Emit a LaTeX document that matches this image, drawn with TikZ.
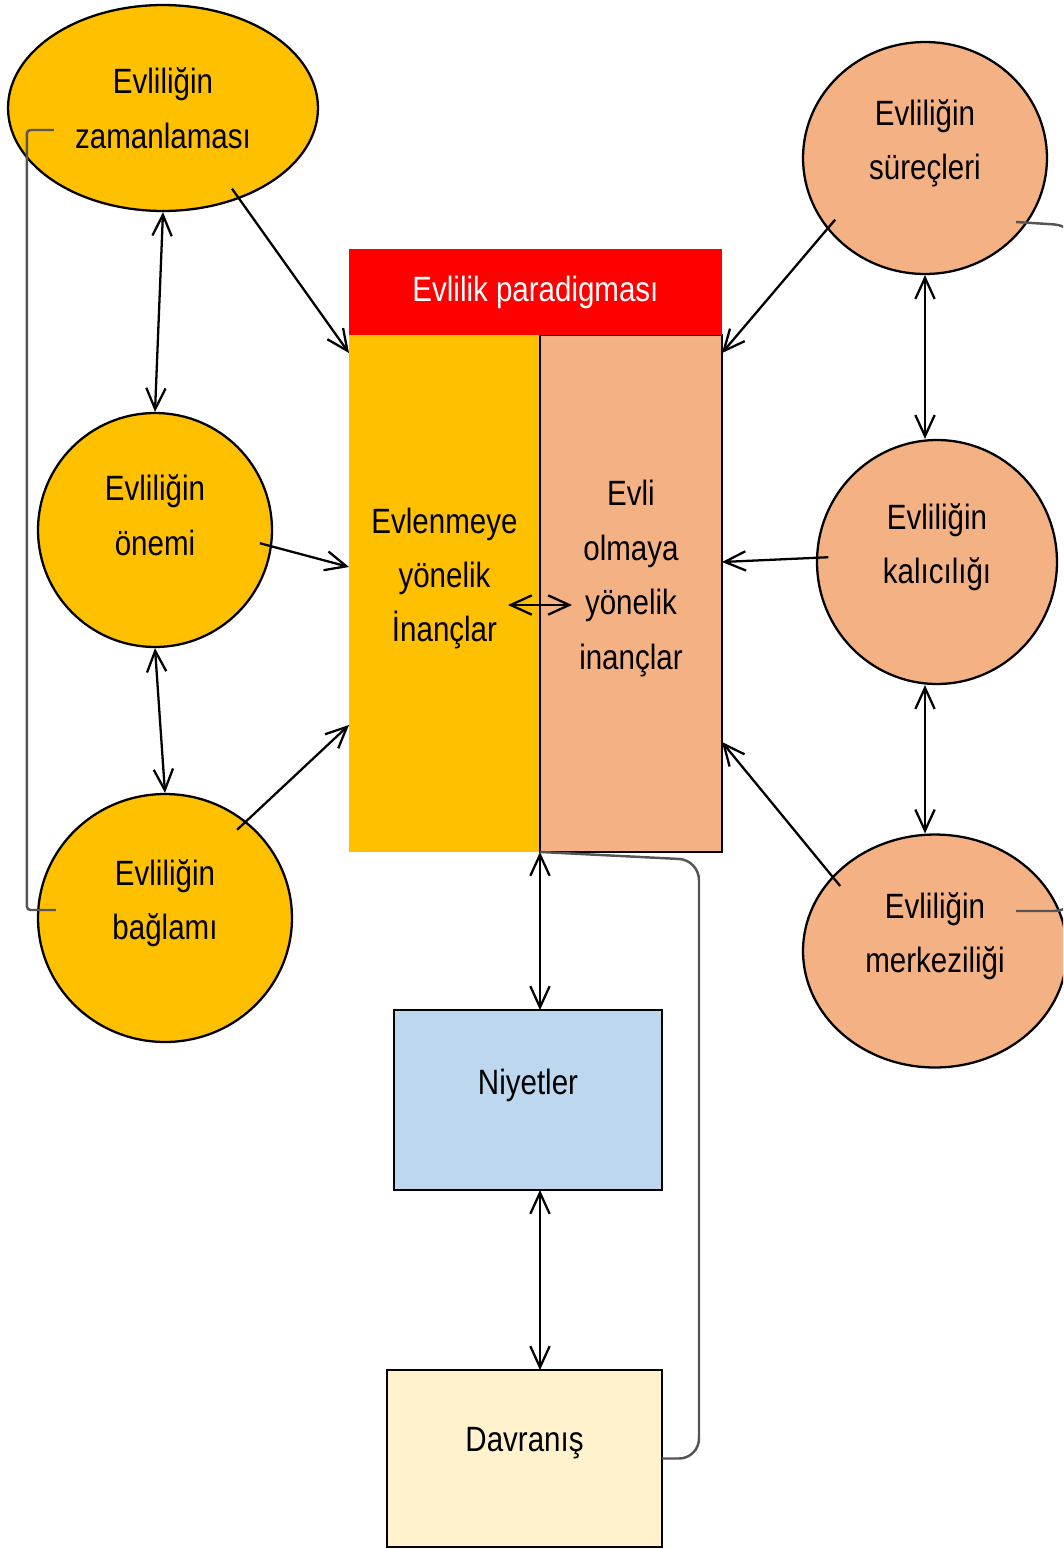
\documentclass[tikz,border=0pt]{standalone}
\usepackage{fontspec}
\setmainfont{Liberation Sans}[FakeStretch=0.84]
\usetikzlibrary{positioning,shapes.geometric,arrows.meta,calc}
\definecolor{gold}{HTML}{FFC000}
\definecolor{salmon}{HTML}{F4B183}
\definecolor{paleblue}{HTML}{BDD7EE}
\definecolor{cream}{HTML}{FFF2CC}
\definecolor{fbgray}{HTML}{555555}

\begin{document}
\begin{tikzpicture}[x=0.02cm, y=-0.02cm, >={Straight Barb[length=12pt,width=11pt]},
font=\fontsize{20}{31}\selectfont, line width=1.3pt,
bubble/.style={ellipse, draw, inner sep=0pt},
box/.style={rectangle, inner sep=0pt, outer sep=0pt},
txt/.style={label={[align=center, yshift=0.3cm]center:#1}},
into/.style={->, shorten <=-0.25cm},
fb/.style={draw=fbgray, line width=1.4pt}
]
\useasboundingbox (0,0) rectangle (1063,1549);
\clip (0,0) rectangle (1063,1549);

% left column
\node[bubble, fill=gold, align=center, minimum width=6.2cm, minimum height=4.12cm] (zaman) at (163,108) {Evliliğin\\zamanlaması};
\node[bubble, fill=gold, minimum width=4.68cm, minimum height=4.68cm, txt={Evliliğin\\önemi}] (onem) at (155,530) {};
\node[bubble, fill=gold, minimum width=5.08cm, minimum height=4.96cm, txt={Evliliğin\\bağlamı}] (baglam) at (165,918) {};

% right column
\node[bubble, fill=salmon, minimum width=4.88cm, minimum height=4.64cm, txt={Evliliğin\\süreçleri}] (surec) at (925,158) {};
\node[bubble, fill=salmon, minimum width=4.8cm, minimum height=4.88cm, txt={Evliliğin\\kalıcılığı}] (kalici) at (937,562) {};
\node[bubble, fill=salmon, minimum width=5.28cm, minimum height=4.66cm, txt={Evliliğin\\merkeziliği}] (merkez) at (935,951) {};

% paradigm
\node[box, fill=gold, minimum width=3.82cm, minimum height=10.34cm, txt={Evlenmeye\\yönelik\\İnançlar}] (leftbox) at (444.5,593.5) {};
\node[box, draw, fill=salmon, minimum width=3.64cm, minimum height=10.34cm, txt={Evli\\olmaya\\yönelik\\inançlar}] (rightbox) [right=0pt of leftbox] {};
\node[box, fill=red, text=white, minimum width=7.46cm, minimum height=1.72cm] (head) [above right=0pt and 0pt of leftbox.north west] {Evlilik paradigması};

\node[box, draw, fill=paleblue, minimum width=5.36cm, minimum height=3.6cm, txt={Niyetler}] (niyet) at (528,1100) {};
\node[box, draw, fill=cream, minimum width=5.5cm, minimum height=3.54cm, txt={Davranış}] (davran) at (524.5,1458.5) {};

% links
\draw[<->] (zaman.south) -- (onem.north);
\draw[<->] (onem.south) -- (baglam.north);
\draw[<->] (surec.south) -- (surec.south |- kalici.north);
\draw[<->] (surec.south |- kalici.south) -- (surec.south |- merkez.north);
\draw[<->] (leftbox.south east) -- (leftbox.south east |- niyet.north);
\draw[<->] (leftbox.south east |- niyet.south) -- (leftbox.south east |- davran.north);
\draw[<->] ([xshift=-0.64cm,yshift=-0.23cm]leftbox.east) -- ([xshift=0.64cm,yshift=-0.23cm]leftbox.east);

\draw[into] (zaman.-50) -- ([yshift=-0.36cm]leftbox.north west);
\draw[into] (onem.-8) -- ([yshift=-4.64cm]leftbox.north west);
\draw[into] (baglam.50) -- ([yshift=-7.8cm]leftbox.north west);
\draw[into] (surec.216) -- ([yshift=-0.36cm]rightbox.north east);
\draw[into] (kalici.178) -- ([yshift=-4.54cm]rightbox.north east);
\draw[into] (merkez.144) -- ([yshift=-8.14cm]rightbox.north east);

% feedback lines
\draw[fb, rounded corners=2pt] ($(zaman.west)+(47,22)$) -- ++(-27,0) |- ($(baglam.west)+(19,-8)$);
\draw[fb, rounded corners=0.5cm] ($(surec.east)+(-32,64)$) -- ++(63,4) |- ($(merkez.east)+(-52,-40)$);
\draw[fb, rounded corners=0.4cm] (leftbox.south east) -- ++(159,8) |- (davran.east);
\end{tikzpicture}
\end{document}
